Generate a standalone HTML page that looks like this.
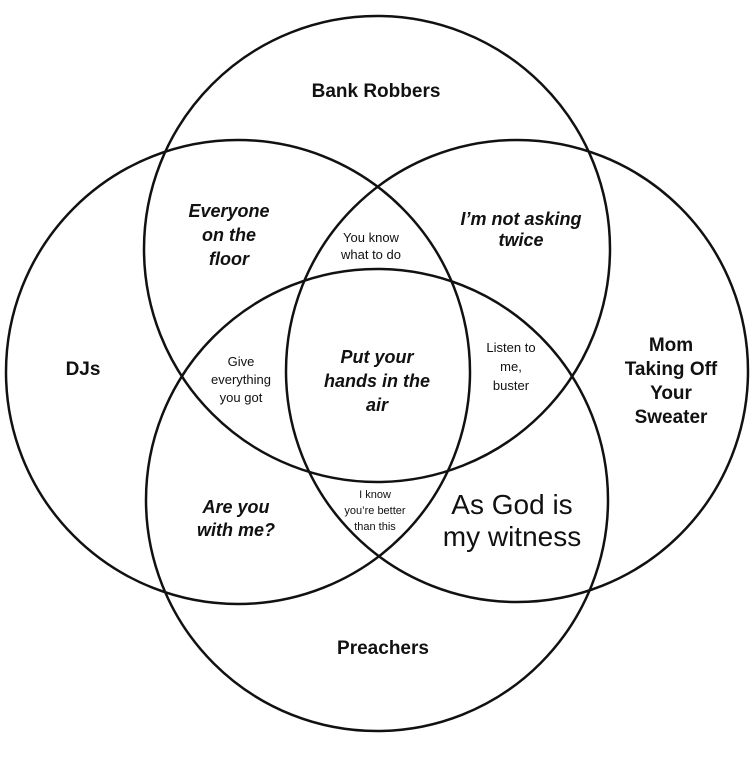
<!DOCTYPE html>
<html><head><meta charset="utf-8"><style>
html,body{margin:0;padding:0;background:#fff}
svg{display:block}
text{font-family:"Liberation Sans","DejaVu Sans",sans-serif;text-anchor:middle;fill:#111}
.b{font-weight:bold;font-size:19px}
.i{font-style:italic;font-weight:bold;font-size:18px}
.s{font-size:13px}
.w{font-size:28px}
</style></head><body>
<svg width="750" height="767" viewBox="0 0 750 767">
<rect width="750" height="767" fill="#fff"/>
<g fill="none" stroke="#111" stroke-width="2.5">
<circle cx="377" cy="249" r="233"/>
<circle cx="238" cy="372" r="232"/>
<circle cx="517" cy="371" r="231"/>
<circle cx="377" cy="500" r="231"/>
</g>
<text class="b" x="376" y="97">Bank Robbers</text>
<text class="b" x="83" y="375">DJs</text>
<text class="b" x="671" y="351">Mom</text>
<text class="b" x="671" y="375">Taking Off</text>
<text class="b" x="671" y="399">Your</text>
<text class="b" x="671" y="423">Sweater</text>
<text class="b" x="383" y="654">Preachers</text>
<text class="i" x="229" y="217">Everyone</text>
<text class="i" x="229" y="241">on the</text>
<text class="i" x="229" y="265">floor</text>
<text class="i" x="521" y="225">I’m not asking</text>
<text class="i" x="521" y="246">twice</text>
<text class="s" x="371" y="242">You know</text>
<text class="s" x="371" y="259">what to do</text>
<text class="s" x="241" y="366">Give</text>
<text class="s" x="241" y="384">everything</text>
<text class="s" x="241" y="402">you got</text>
<text class="i" x="377" y="363">Put your</text>
<text class="i" x="377" y="387">hands in the</text>
<text class="i" x="377" y="411">air</text>
<text class="s" x="511" y="352">Listen to</text>
<text class="s" x="511" y="371">me,</text>
<text class="s" x="511" y="390">buster</text>
<text class="i" x="236" y="513">Are you</text>
<text class="i" x="236" y="536">with me?</text>
<text class="s" x="375" y="498" style="font-size:11px">I know</text>
<text class="s" x="375" y="514" style="font-size:11px">you’re better</text>
<text class="s" x="375" y="530" style="font-size:11px">than this</text>
<text class="w" x="512" y="514">As God is</text>
<text class="w" x="512" y="546">my witness</text>
</svg>
</body></html>
